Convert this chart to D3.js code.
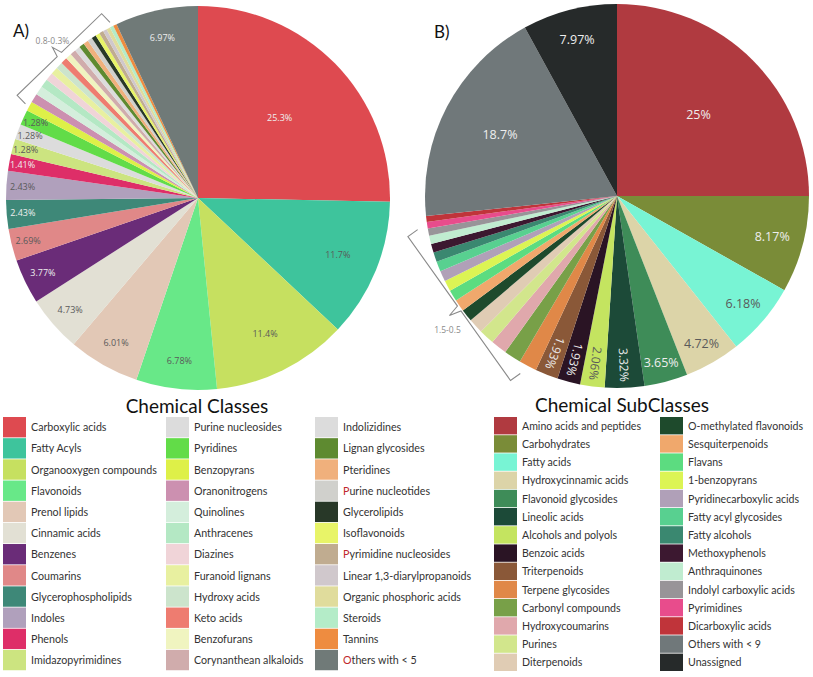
<!DOCTYPE html>
<html>
<head>
<meta charset="utf-8">
<script src="https://cdn.jsdelivr.net/npm/d3@7"></script>
<style>
  html, body { margin: 0; padding: 0; background: #fff; }
  svg { display: block; font-family: "Open Sans", "Liberation Sans", sans-serif; }
  .legend-text { font-family: Lato, "Liberation Sans", sans-serif; fill: #333; }
</style>
</head>
<body>
<svg id="chart" width="813" height="677"></svg>
<script>
// Two pies: chemical classes (A) and subclasses (B), % of annotated features.

// --- A) Chemical Classes ---
const classNames = [
  "Carboxylic acids", "Fatty Acyls", "Organooxygen compounds", "Flavonoids",
  "Prenol lipids", "Cinnamic acids", "Benzenes", "Coumarins",
  "Glycerophospholipids", "Indoles", "Phenols", "Imidazopyrimidines",
  "Purine nucleosides", "Pyridines", "Benzopyrans", "Oranonitrogens",
  "Quinolines", "Anthracenes", "Diazines", "Furanoid lignans",
  "Hydroxy acids", "Keto acids", "Benzofurans", "Corynanthean alkaloids",
  "Indolizidines", "Lignan glycosides", "Pteridines", "Purine nucleotides",
  "Glycerolipids", "Isoflavonoids", "Pyrimidine nucleosides", "Linear 1,3-diarylpropanoids",
  "Organic phosphoric acids", "Steroids", "Tannins", "Others with < 5"
];
const classValues = [
  25.3, 11.7, 11.4, 6.78,
  6.01, 4.73, 3.77, 2.69,
  2.43, 2.43, 1.41, 1.28,
  1.28, 1.28, 0.8, 0.77,
  0.75, 0.72, 0.66, 0.62,
  0.58, 0.54, 0.51, 0.48,
  0.46, 0.44, 0.42, 0.4,
  0.38, 0.36, 0.35, 0.33,
  0.32, 0.31, 0.3, 6.97
];
const classColors = [
  "#de4a50", "#3ec49c", "#c6e060", "#68e888",
  "#e2c8b6", "#e2e0d4", "#6a2c78", "#e08888",
  "#3e8878", "#b0a0bc", "#de2e68", "#cce480",
  "#dcdcdc", "#62dc48", "#def048", "#cc90b0",
  "#d4eedc", "#b4e8c4", "#f0d4d8", "#e8f0a0",
  "#cce4cc", "#ee7c70", "#f0f4c0", "#d0acac",
  "#dcdcdc", "#5e8a30", "#f0b07c", "#d0d0cc",
  "#283828", "#e8f468", "#c0ac90", "#d0c8cc",
  "#e0dc9c", "#b4ecc8", "#ee8c40", "#707a78"
];

// --- B) Chemical SubClasses ---
const subclassNames = [
  "Amino acids and peptides", "Carbohydrates", "Fatty acids", "Hydroxycinnamic acids",
  "Flavonoid glycosides", "Lineolic acids", "Alcohols and polyols", "Benzoic acids",
  "Triterpenoids", "Terpene glycosides", "Carbonyl compounds", "Hydroxycoumarins",
  "Purines", "Diterpenoids", "O-methylated flavonoids", "Sesquiterpenoids",
  "Flavans", "1-benzopyrans", "Pyridinecarboxylic acids", "Fatty acyl glycosides",
  "Fatty alcohols", "Methoxyphenols", "Anthraquinones", "Indolyl carboxylic acids",
  "Pyrimidines", "Dicarboxylic acids", "Others with < 9", "Unassigned"
];
const subclassValues = [
  25, 8.17, 6.18, 4.72,
  3.65, 3.32, 2.06, 1.93,
  1.93, 1.5, 1.45, 1.35,
  1.3, 1.25, 1.05, 1.0,
  0.95, 0.9, 0.9, 0.85,
  0.8, 0.75, 0.7, 0.6,
  0.55, 0.5, 18.7, 7.97
];
const subclassColors = [
  "#b03a40", "#7a8c38", "#78f4d4", "#dcd4a8",
  "#3e8c58", "#1c4a38", "#c4e460", "#2a1424",
  "#8a5838", "#e08848", "#78a048", "#e0a8ac",
  "#d2e68c", "#e0ccb4", "#1e4a2c", "#f0a86c",
  "#5cdc80", "#dcf454", "#b0a0b8", "#58d090",
  "#3a8870", "#3c1830", "#c0ecd0", "#989498",
  "#e84c8c", "#c0343a", "#70787a", "#262a2a"
];

// grouped (unlabelled) tails, marked with a bracket
const classGroup = ["Benzopyrans", "Tannins", "0.8-0.3%"];
const subclassGroup = ["Terpene glycosides", "Dicarboxylic acids", "1.5-0.5"];

// legend entries whose first letter shows in red in the source figure
const redInitial = ["Purine nucleotides", "Pyrimidine nucleosides", "Others with < 5"];

const svg = d3.select("#chart");
const fmt = d3.format(".3~g");

function lightness(c) {
  const rgb = d3.rgb(c);
  return (0.299 * rgb.r + 0.587 * rgb.g + 0.114 * rgb.b) / 255;
}

function drawPie(names, values, colors, group, o) {
  const g = svg.append("g").attr("transform", `translate(${o.cx},${o.cy})`);
  const data = names.map((n, i) => ({ name: n, value: values[i], color: colors[i] }));
  const arcs = d3.pie().sort(null).value(d => d.value)(data);
  const arc = d3.arc().innerRadius(0).outerRadius(o.r);

  g.selectAll("path.slice")
    .data(arcs)
    .join("path")
    .attr("class", "slice")
    .attr("d", arc)
    .attr("fill", d => d.data.color);

  const i0 = names.indexOf(group[0]);
  const i1 = names.indexOf(group[1]);
  const labelled = arcs.filter((d, i) => i < i0 || i > i1);

  g.selectAll("text.lbl")
    .data(labelled)
    .join("text")
    .attr("class", "lbl")
    .attr("text-anchor", "middle")
    .attr("dy", "0.35em")
    .attr("font-size", d => d.data.value < o.rotateBelow ? o.rotSize : o.fontSize)
    .attr("fill", d => lightness(d.data.color) < 0.5 ? "#eeeeee" : "#5a5a5a")
    .attr("transform", d => {
      const a = (d.startAngle + d.endAngle) / 2;
      const rot = d.data.value < o.rotateBelow;
      const k = rot ? o.rotR : Math.max(0.59, Math.min(0.94, 0.95 - 0.014 * d.data.value));
      const x = Math.sin(a) * o.r * k, y = -Math.cos(a) * o.r * k;
      return rot ? `translate(${x},${y}) rotate(${a * 180 / Math.PI - 90})` : `translate(${x},${y})`;
    })
    .text(d => fmt(d.data.value) + "%");

  // bracket over the grouped tail
  const a0 = arcs[i0].startAngle + o.inset * Math.PI / 180;
  const a1 = arcs[i1].endAngle - o.inset * Math.PI / 180;
  const R = o.r + o.pad;
  const p0 = [Math.sin(a0) * R, -Math.cos(a0) * R];
  const p1 = [Math.sin(a1) * R, -Math.cos(a1) * R];
  const len = Math.hypot(p1[0] - p0[0], p1[1] - p0[1]);
  const dir = [(p1[0] - p0[0]) / len, (p1[1] - p0[1]) / len];
  const mid = [(p0[0] + p1[0]) / 2, (p0[1] + p1[1]) / 2];
  let perp = [-dir[1], dir[0]];
  if (perp[0] * mid[0] + perp[1] * mid[1] > 0) perp = [-perp[0], -perp[1]]; // point inward
  const at = (p, s, t) => [p[0] + dir[0] * s + perp[0] * t, p[1] + dir[1] * s + perp[1] * t];
  const tip = at(mid, 0, -o.tip);
  const pts = [at(p0, 0, 12), p0, at(mid, -3, 0), tip, at(mid, 3, 0), p1, at(p1, 0, 12)];
  g.append("path")
    .attr("d", d3.line()(pts))
    .attr("fill", "none")
    .attr("stroke", "#8a8a8a")
    .attr("stroke-width", 1.1);
  g.append("text")
    .attr("x", tip[0] + o.textDx)
    .attr("y", tip[1] + o.textDy)
    .attr("text-anchor", "middle")
    .attr("font-size", 8.5)
    .attr("fill", "#8a8a8a")
    .text(group[2]);

  svg.append("text")
    .attr("x", o.tagX).attr("y", o.tagY)
    .attr("font-size", 17)
    .attr("font-family", "Lato, 'Liberation Sans', sans-serif")
    .attr("fill", "#111")
    .text(o.tag);
}

function drawLegend(names, colors, o) {
  const g = svg.append("g");
  g.append("text")
    .attr("x", o.titleX).attr("y", o.titleY)
    .attr("text-anchor", "middle")
    .attr("font-size", 19)
    .attr("font-family", "Lato, 'Liberation Sans', sans-serif")
    .attr("fill", "#111")
    .text(o.title);

  const items = g.selectAll("g.item")
    .data(names.map((n, i) => ({ name: n, color: colors[i], col: Math.floor(i / o.rows), row: i % o.rows })))
    .join("g")
    .attr("class", "item")
    .attr("transform", d => `translate(${o.cols[d.col]},${o.top + d.row * o.rowH})`);

  items.append("rect")
    .attr("width", 23).attr("height", o.rowH - 0.8)
    .attr("fill", d => d.color);

  const t = items.append("text")
    .attr("class", "legend-text")
    .attr("x", 28).attr("y", o.rowH / 2)
    .attr("dy", "0.35em")
    .attr("font-size", o.fontSize);
  t.append("tspan")
    .attr("fill", d => redInitial.includes(d.name) ? "#c0282c" : null)
    .text(d => d.name[0]);
  t.append("tspan").text(d => d.name.slice(1));
}

drawPie(classNames, classValues, classColors, classGroup, {
  cx: 198, cy: 198, r: 192, fontSize: 9, rotSize: 9, rotateBelow: 0, rotR: 0.9,
  pad: 16, inset: 2.5, tip: 10, textDx: 0, textDy: -3,
  tag: "A)", tagX: 13, tagY: 37
});
drawPie(subclassNames, subclassValues, subclassColors, subclassGroup, {
  cx: 617, cy: 196, r: 192, fontSize: 12.5, rotSize: 12, rotateBelow: 3.5, rotR: 0.88,
  pad: 21, inset: 5, tip: 12, textDx: -2, textDy: 18,
  tag: "B)", tagX: 434, tagY: 38
});

drawLegend(classNames, classColors, {
  title: "Chemical Classes", titleX: 197, titleY: 413,
  cols: [3, 166, 315], rows: 12, top: 417, rowH: 21.17, fontSize: 10.7
});
drawLegend(subclassNames, subclassColors, {
  title: "Chemical SubClasses", titleX: 622, titleY: 412,
  cols: [494, 660], rows: 14, top: 417, rowH: 18.2, fontSize: 10.6
});
</script>
</body>
</html>
